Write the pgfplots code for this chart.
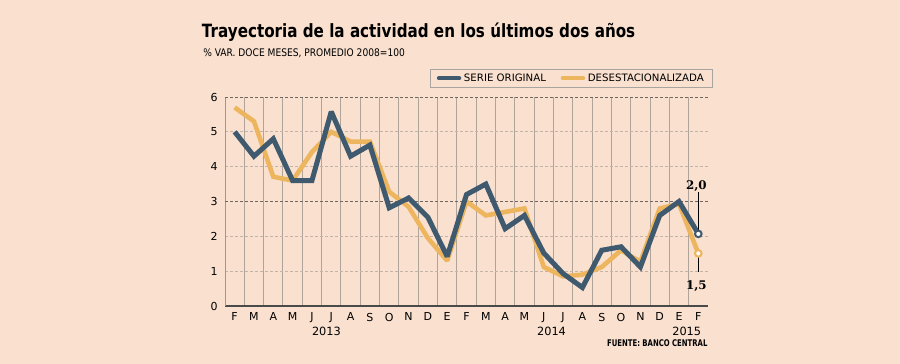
\documentclass[border=0pt]{standalone}
\usepackage{fontspec}
\setmainfont{DejaVu Sans}
\newfontfamily\titlefont[FakeStretch=0.83]{DejaVu Sans}
\newfontfamily\subfont[FakeStretch=0.87]{DejaVu Sans}
\newfontfamily\srcfont[FakeStretch=0.75]{DejaVu Sans}
\newfontfamily\numfont{DejaVu Serif}
\usepackage{pgfplots}
\pgfplotsset{compat=1.18}
\definecolor{bgc}{HTML}{F9E0CF}
\definecolor{bluec}{HTML}{3F5A6E}
\definecolor{orangec}{HTML}{EDB65E}
\definecolor{gridlight}{HTML}{C4B4A8}
\definecolor{griddark}{HTML}{6E6660}
\definecolor{gridv}{HTML}{AFA39A}
\definecolor{axisdark}{HTML}{4A4A4A}
\definecolor{axisy}{HTML}{A09890}
\definecolor{legborder}{HTML}{A8A4A0}
\def\u{0.75pt}
\begin{document}
\begin{tikzpicture}
\fill[bgc] (0,0) rectangle ({900*\u},{364*\u});
\node[anchor=base west, inner sep=0, font=\titlefont\bfseries\fontsize{13.7pt}{16pt}\selectfont] at ({201.7*\u},{(364-37.3)*\u}) {Trayectoria de la actividad en los últimos dos años};
\node[anchor=base west, inner sep=0, font=\subfont\fontsize{7.85pt}{9pt}\selectfont] at ({203*\u},{(364-57)*\u}) {\% VAR. DOCE MESES, PROMEDIO 2008=100};
\node[anchor=base east, inner sep=0, font=\srcfont\bfseries\fontsize{6.9pt}{8pt}\selectfont] at ({707.7*\u},{(364-346.7)*\u}) {FUENTE: BANCO CENTRAL};
\begin{axis}[
  at={({225*\u},{58*\u})}, anchor=south west,
  scale only axis, width={483*\u}, height={209*\u},
  xmin=-0.5, xmax=24.5, ymin=0, ymax=6,
  axis lines*=left, axis line style={-},
  x axis line style={draw=axisdark, line width={1.6*\u}},
  y axis line style={draw=axisy, line width={1*\u}},
  xtick={0,...,24},
  xticklabels={F,M,A,M,J,J,A,S,O,N,D,E,F,M,A,M,J,J,A,S,O,N,D,E,F},
  ytick={0,1,2,4,5}, extra y ticks={3,6},
  /pgf/number format/assume math mode=true,
  major tick length=0, minor tick length=0,
  tick label style={font=\fontsize{8.25pt}{10pt}\selectfont, text=black},
  yticklabel style={inner sep=0pt, anchor=east, xshift={-7*\u}},
  xticklabel style={inner sep=0pt, anchor=north, yshift={-6.7*\u}},
  ymajorgrids, grid style={dash pattern=on 2.25pt off 1.5pt, gridlight, line width={0.8*\u}},
  extra y tick style={grid style={dash pattern=on 2.25pt off 1.5pt, griddark, line width={0.9*\u}}},
  minor xtick={0.5,1.5,...,23.5}, xminorgrids,
  minor grid style={gridv, line width={1*\u}, solid},
  clip=false,
  legend columns=2,
  legend style={at={(1.0104,1.135)}, anchor=north east, draw=legborder, fill=bgc,
    line width={1*\u}, font=\fontsize{7.65pt}{9pt}\selectfont,
    inner xsep={6*\u}, inner ysep={1.5*\u},
    /tikz/every even column/.append style={column sep={12*\u}}},
  legend cell align=left,
  legend image code/.code={\draw[#1, line cap=round] (0,0) -- ({20*\u},0);},
]
\addlegendimage{bluec, line width={4.5*\u}}
\addlegendentry{SERIE ORIGINAL}
\addlegendimage{orangec, line width={4.5*\u}}
\addlegendentry{DESESTACIONALIZADA}
\addplot[forget plot, orangec, line width={4.6*\u}, line join=miter, miter limit=2] coordinates {
(0,5.7)(1,5.3)(2,3.71)(3,3.6)(4,4.42)(5,5.0)(6,4.72)(7,4.72)(8,3.28)(9,2.85)(10,1.95)(11,1.3)(12,3.0)(13,2.6)(14,2.7)(15,2.8)(16,1.12)(17,0.85)(18,0.9)(19,1.12)(20,1.6)(21,1.27)(22,2.8)(23,2.93)(24,1.51)};
\addplot[forget plot, bluec, line width={5*\u}, line join=miter, miter limit=2] coordinates {
(0,5.0)(1,4.3)(2,4.8)(3,3.6)(4,3.6)(5,5.58)(6,4.3)(7,4.62)(8,2.82)(9,3.1)(10,2.55)(11,1.42)(12,3.2)(13,3.5)(14,2.22)(15,2.6)(16,1.52)(17,0.93)(18,0.53)(19,1.6)(20,1.7)(21,1.12)(22,2.6)(23,3.0)(24,2.07)};
\draw[black, line width={0.9*\u}] (axis cs:24,2.1) -- (axis cs:24,3.27);
\draw[black, line width={0.9*\u}] (axis cs:24,1.5) -- (axis cs:24,0.985);
\addplot[forget plot, only marks, mark=*, mark size={3.3*\u}, mark options={fill=white, draw=orangec, line width={2*\u}}] coordinates {(24,1.51)};
\addplot[forget plot, only marks, mark=*, mark size={3.3*\u}, mark options={fill=white, draw=bluec, line width={2*\u}}] coordinates {(24,2.07)};
\node[anchor=base, inner sep=0, font=\numfont\bfseries\fontsize{8.9pt}{10pt}\selectfont] at (axis cs:23.9,3.35) {2,0};
\node[anchor=base, inner sep=0, font=\numfont\bfseries\fontsize{8.9pt}{10pt}\selectfont] at (axis cs:23.9,0.46) {1,5};
\node[anchor=base, inner sep=0, font=\fontsize{8.5pt}{10pt}\selectfont] at (axis cs:4.75,-0.833) {2013};
\node[anchor=base, inner sep=0, font=\fontsize{8.5pt}{10pt}\selectfont] at (axis cs:16.4,-0.833) {2014};
\node[anchor=base, inner sep=0, font=\fontsize{8.5pt}{10pt}\selectfont] at (axis cs:23.4,-0.833) {2015};
\end{axis}
\end{tikzpicture}
\end{document}
